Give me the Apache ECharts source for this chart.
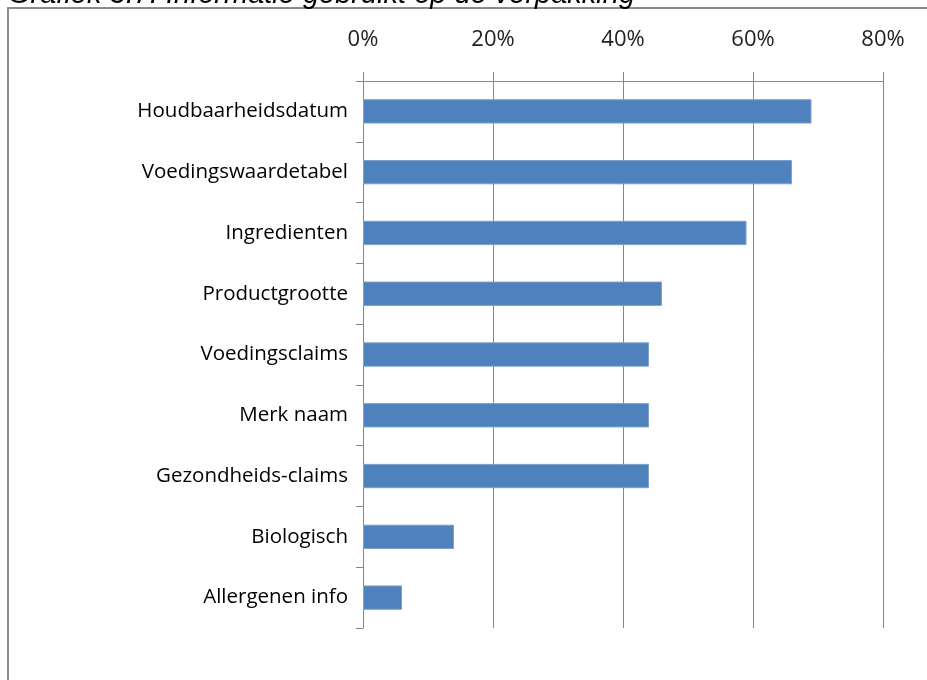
<!DOCTYPE html>
<html>
<head>
<meta charset="utf-8">
<script src="https://cdn.jsdelivr.net/npm/echarts@6/dist/echarts.min.js"></script>
<style>
  html, body { margin: 0; padding: 0; background: #fff; }
  #chart { width: 927px; height: 680px; }
</style>
</head>
<body>
<div id="chart"></div>
<script>
var categories = [
  "Houdbaarheidsdatum",
  "Voedingswaardetabel",
  "Ingredienten",
  "Productgrootte",
  "Voedingsclaims",
  "Merk naam",
  "Gezondheids-claims",
  "Biologisch",
  "Allergenen info"
];
var values = [69, 66, 59, 46, 44, 44, 44, 14, 6];
var titleText = "Grafiek 3.7: Informatie gebruikt op de verpakking";

var myChart = echarts.init(document.getElementById("chart"));
var option = {
  animation: false,
  graphic: [
    {
      type: "rect",
      shape: { x: 8, y: 8, width: 1000, height: 1000 },
      style: { fill: "none", stroke: "#8c8c8c", lineWidth: 2 }
    },
    {
      type: "text",
      x: 8,
      y: 9,
      style: {
        text: titleText,
        font: "italic 29px 'Liberation Sans', Arial, sans-serif",
        fill: "#000",
        verticalAlign: "bottom"
      }
    }
  ],
  grid: { left: 363, right: 44, top: 81, bottom: 52 },
  xAxis: {
    type: "value",
    position: "top",
    min: 0,
    max: 80,
    interval: 20,
    axisLine: { show: true, lineStyle: { color: "#868686", width: 1 } },
    axisTick: { show: true, length: 9, lineStyle: { color: "#868686" } },
    splitLine: { show: true, lineStyle: { color: "#868686", width: 1 } },
    axisLabel: {
      formatter: "{value}%",
      color: "#222",
      fontSize: 22,
      fontFamily: "'Open Sans', sans-serif",
      margin: 30
    }
  },
  yAxis: {
    type: "category",
    data: categories,
    inverse: true,
    axisLine: { show: true, lineStyle: { color: "#868686", width: 1 } },
    axisTick: { show: true, length: 7, lineStyle: { color: "#868686" } },
    axisLabel: {
      color: "#000",
      fontSize: 20.5,
      fontFamily: "'Open Sans', sans-serif",
      margin: 15
    }
  },
  series: [
    {
      type: "bar",
      data: values,
      barCategoryGap: "60%",
      itemStyle: { color: "#4f81bd", borderColor: "#7da0cc", borderWidth: 1 }
    }
  ]
};
myChart.setOption(option);
</script>
</body>
</html>
